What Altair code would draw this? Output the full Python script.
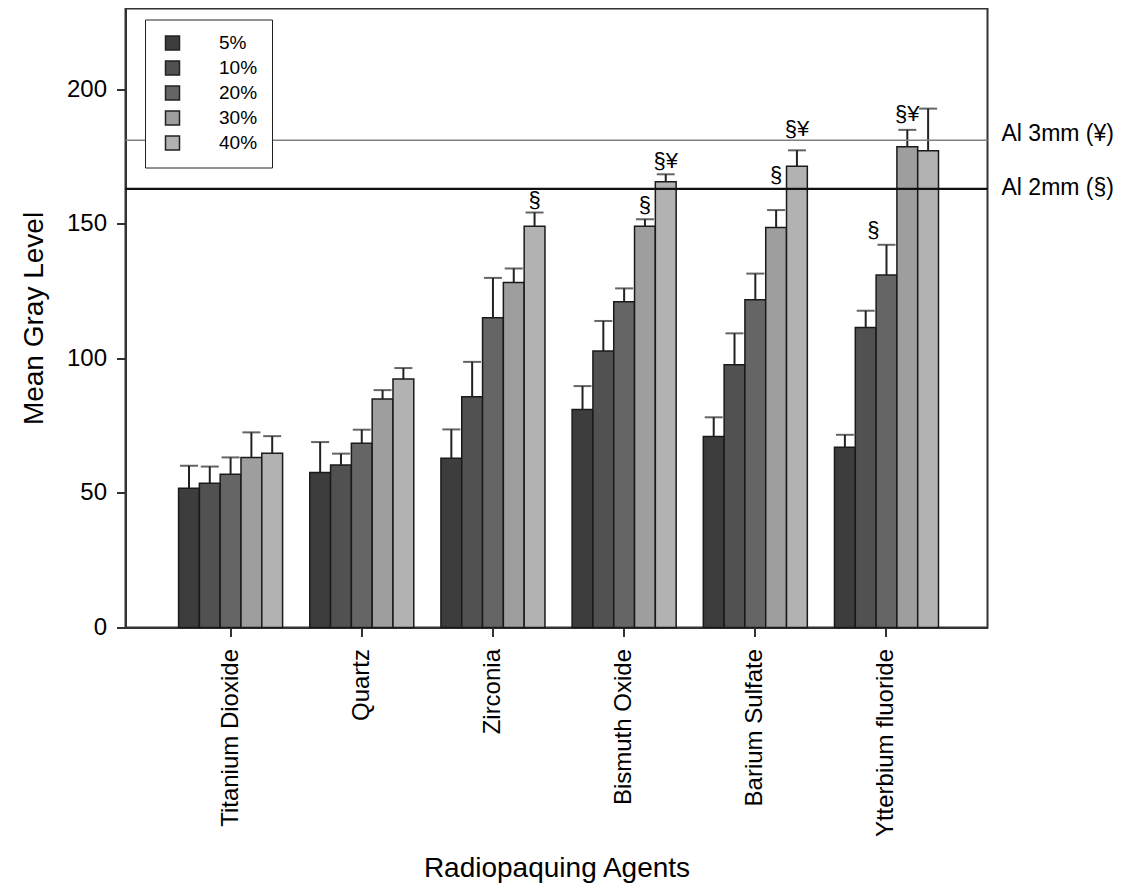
import altair as alt
import pandas as pd

agents = ["Titanium Dioxide", "Quartz", "Zirconia", "Bismuth Oxide",
          "Barium Sulfate", "Ytterbium fluoride"]
concentrations = ["5%", "10%", "20%", "30%", "40%"]
conc_colors = ["#3d3d3d", "#515151", "#656565", "#9e9e9e", "#b2b2b2"]

# mean gray level per agent, for 5%, 10%, 20%, 30%, 40%
titanium_mean = [51.7, 53.6, 56.9, 63.2, 64.7]
quartz_mean = [57.6, 60.4, 68.5, 84.9, 92.3]
zirconia_mean = [62.9, 85.7, 115.1, 128.2, 149.1]
bismuth_mean = [81.0, 102.7, 121.0, 149.1, 165.6]
barium_mean = [71.0, 97.6, 121.8, 148.6, 171.4]
ytterbium_mean = [67.0, 111.5, 131.0, 178.6, 177.1]

# upper error (SD)
titanium_sd = [8.4, 6.2, 6.3, 9.3, 6.4]
quartz_sd = [11.3, 4.2, 5.0, 3.3, 4.1]
zirconia_sd = [10.7, 13.0, 14.8, 5.2, 5.1]
bismuth_sd = [8.7, 11.2, 5.0, 2.6, 2.8]
barium_sd = [7.1, 11.7, 9.7, 6.5, 5.9]
ytterbium_sd = [4.6, 6.2, 11.2, 6.3, 15.7]

means = [titanium_mean, quartz_mean, zirconia_mean, bismuth_mean, barium_mean, ytterbium_mean]
sds = [titanium_sd, quartz_sd, zirconia_sd, bismuth_sd, barium_sd, ytterbium_sd]

# significance annotations
ann_agent = ["Zirconia", "Bismuth Oxide", "Bismuth Oxide", "Barium Sulfate",
             "Barium Sulfate", "Ytterbium fluoride", "Ytterbium fluoride"]
ann_conc = ["40%", "30%", "40%", "30%", "40%", "20%", "30%"]
ann_text = ["§", "§", "§¥", "§", "§¥", "§", "§¥"]
ann_y = [158.8, 156.9, 173.3, 168.3, 185.3, 147.6, 190.9]

# aluminium reference lines
ref_names = ["Al 3mm (¥)", "Al 2mm (§)"]
ref_values = [181.0, 163.0]
ref_label_y = [183.5, 163.4]
ref_colors = ["#808080", "#111111"]
ref_widths = [1.5, 2.2]

rows = []
for a, m, s in zip(agents, means, sds):
    for c, mv, sv in zip(concentrations, m, s):
        rows.append({"agent": a, "conc": c, "mean": mv, "upper": mv + sv})
df = pd.DataFrame(rows)

ann_df = pd.DataFrame({"agent": ann_agent, "conc": ann_conc,
                       "label": ann_text, "y": ann_y})
ref_df = pd.DataFrame({"name": ref_names, "value": ref_values,
                       "label_y": ref_label_y, "color": ref_colors,
                       "w": ref_widths})

W, H = 862, 619
FONT = "Liberation Sans"

x_enc = alt.X("agent:N", sort=agents,
              scale=alt.Scale(paddingInner=0.207, paddingOuter=0.389, align=0.52),
              axis=alt.Axis(title="Radiopaquing Agents", labelAngle=-90,
                            labelFontSize=24, tickSize=9, labelPadding=12,
                            labelLimit=400,
                            titleFontSize=28, titleFontWeight="normal",
                            titlePadding=27, labelColor="black",
                            titleColor="black"))
xo_enc = alt.XOffset("conc:N", sort=concentrations,
                     scale=alt.Scale(paddingInner=0, paddingOuter=0))
y_scale = alt.Scale(domain=[0, 230], nice=False)
y_enc = alt.Y("mean:Q", scale=y_scale,
              axis=alt.Axis(title="Mean Gray Level", values=[0, 50, 100, 150, 200],
                            labelFontSize=24, tickSize=9, labelPadding=10,
                            titleFontSize=28, titleFontWeight="normal",
                            titlePadding=18, grid=False, labelColor="black",
                            titleColor="black"))

base = alt.Chart(df)

bars = base.mark_bar(stroke="#1a1a1a", strokeWidth=1.5).encode(
    x=x_enc, xOffset=xo_enc, y=y_enc,
    color=alt.Color("conc:N", sort=concentrations,
                    scale=alt.Scale(domain=concentrations, range=conc_colors),
                    legend=alt.Legend(title=None, orient="none", legendX=19.5,
                                      legendY=11, symbolType="square",
                                      symbolSize=196, symbolStrokeColor="#222",
                                      symbolStrokeWidth=1.5, labelFontSize=19,
                                      labelOffset=37, padding=14, symbolOffset=4,
                                      rowPadding=4, strokeColor="#222",
                                      fillColor="white", zindex=2,
                                      labelColor="black")),
)

stems = base.mark_rule(color="#222222", strokeWidth=2).encode(
    x=alt.X("agent:N", sort=agents), xOffset=alt.XOffset("conc:N", sort=concentrations),
    y=alt.Y("mean:Q", scale=y_scale), y2="upper:Q",
)
caps = base.mark_tick(color="#222222", orient="horizontal", size=18, thickness=2).encode(
    x=alt.X("agent:N", sort=agents), xOffset=alt.XOffset("conc:N", sort=concentrations),
    y=alt.Y("upper:Q", scale=y_scale),
)

ann_base = alt.Chart(ann_df).mark_text(fontSize=22, color="black", baseline="middle",
                                        font=FONT)
ann_main = ann_base.transform_filter(
    ~((alt.datum.agent == "Ytterbium fluoride") & (alt.datum.conc == "20%"))
).encode(
    x=alt.X("agent:N", sort=agents), xOffset=alt.XOffset("conc:N", sort=concentrations),
    y=alt.Y("y:Q", scale=y_scale), text="label:N",
)
ann_shift = alt.Chart(ann_df).mark_text(fontSize=22, color="black", baseline="middle",
                                         font=FONT, dx=-13).transform_filter(
    (alt.datum.agent == "Ytterbium fluoride") & (alt.datum.conc == "20%")
).encode(
    x=alt.X("agent:N", sort=agents), xOffset=alt.XOffset("conc:N", sort=concentrations),
    y=alt.Y("y:Q", scale=y_scale), text="label:N",
)

ref_lines = alt.Chart(ref_df).mark_rule().encode(
    y=alt.Y("value:Q", scale=y_scale),
    color=alt.Color("color:N", scale=None, legend=None),
    strokeWidth=alt.StrokeWidth("w:Q", scale=None, legend=None),
)
ref_labels = alt.Chart(ref_df).mark_text(fontSize=23, align="left", baseline="middle",
                                          color="black", font=FONT).encode(
    x=alt.value(W + 14),
    y=alt.Y("label_y:Q", scale=y_scale),
    text="name:N",
)

chart = alt.layer(bars, stems, caps, ref_lines, ann_main, ann_shift, ref_labels).properties(
    width=W, height=H,
    autosize=alt.AutoSizeParams(type="none"),
    padding={"left": 117.5, "top": 0.5, "right": 130, "bottom": 257},
).configure(font=FONT).configure_view(
    stroke="#333", strokeWidth=2
).configure_axis(
    domainColor="#333", domainWidth=2, tickColor="#333", tickWidth=2,
    labelFont=FONT, titleFont=FONT
).configure_legend(labelFont=FONT)

chart.save("out.html", embed_options={"renderer": "svg", "actions": False})
